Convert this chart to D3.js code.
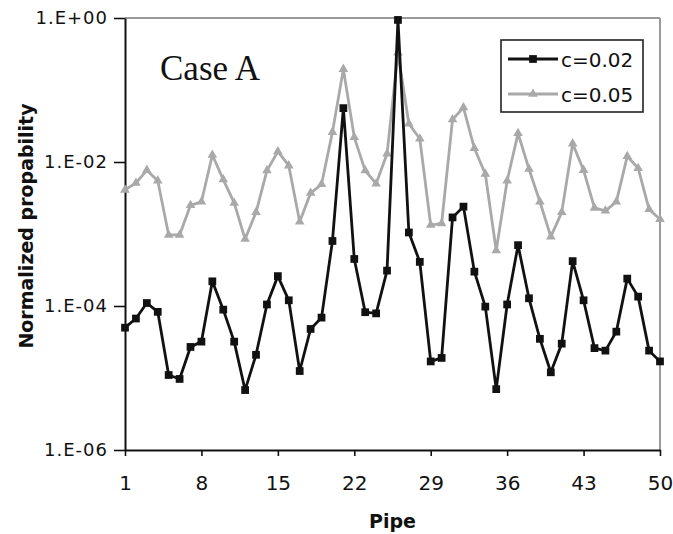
<!DOCTYPE html>
<html>
<head>
<meta charset="utf-8">
<script src="https://cdn.jsdelivr.net/npm/d3@7"></script>
<style>
  html, body { margin: 0; padding: 0; background: #fff; }
  svg { display: block; }
</style>
</head>
<body>
<svg id="chart" width="673" height="534"></svg>
<script>
// Pipe indices 1..50
const pipes = d3.range(1, 51);

// Normalized probability per pipe, c = 0.02
const seriesC002 = [
  5.0e-5, 6.7e-5, 1.1e-4, 8.3e-5, 1.1e-5, 9.7e-6, 2.7e-5, 3.2e-5, 2.2e-4, 8.9e-5,
  3.2e-5, 6.8e-6, 2.1e-5, 1.05e-4, 2.6e-4, 1.2e-4, 1.25e-5, 4.8e-5, 6.9e-5, 8.0e-4,
  5.6e-2, 4.5e-4, 8.2e-5, 7.9e-5, 3.1e-4, 0.94, 1.05e-3, 4.1e-4, 1.7e-5, 1.9e-5,
  1.7e-3, 2.4e-3, 3.0e-4, 9.8e-5, 7.0e-6, 1.05e-4, 7.0e-4, 1.28e-4, 3.5e-5, 1.2e-5,
  3.0e-5, 4.2e-4, 1.2e-4, 2.6e-5, 2.4e-5, 4.4e-5, 2.4e-4, 1.35e-4, 2.4e-5, 1.7e-5
];

// Normalized probability per pipe, c = 0.05
const seriesC005 = [
  4.1e-3, 5.1e-3, 7.7e-3, 5.5e-3, 9.7e-4, 9.7e-4, 2.5e-3, 2.8e-3, 1.25e-2, 5.7e-3,
  2.7e-3, 8.5e-4, 2.0e-3, 7.6e-3, 1.4e-2, 8.9e-3, 1.48e-3, 3.7e-3, 4.9e-3, 2.6e-2,
  0.195, 2.2e-2, 7.6e-3, 5.0e-3, 1.3e-2, 0.33, 3.4e-2, 2.1e-2, 1.33e-3, 1.4e-3,
  3.9e-2, 5.7e-2, 1.55e-2, 6.8e-3, 5.9e-4, 5.5e-3, 2.5e-2, 8.0e-3, 2.8e-3, 9.2e-4,
  2.0e-3, 1.8e-2, 7.7e-3, 2.3e-3, 2.1e-3, 2.8e-3, 1.2e-2, 8.2e-3, 2.2e-3, 1.6e-3
];

const xTicks = [1, 8, 15, 22, 29, 36, 43, 50];
const yTicks = [1, 1e-2, 1e-4, 1e-6];
const yTickLabels = ["1.E+00", "1.E-02", "1.E-04", "1.E-06"];
const seriesNames = ["c=0.02", "c=0.05"];

const svg = d3.select("#chart");
const plotLeft = 125, plotRight = 660, plotTop = 18, plotBottom = 450;

const x = d3.scaleLinear().domain([1, 50]).range([plotLeft, plotRight]);
const y = d3.scaleLog().domain([1e-6, 1]).range([plotBottom, plotTop]);

// Plot frame: grey top and right edges
svg.append("line").attr("x1", plotLeft).attr("x2", plotRight).attr("y1", plotTop).attr("y2", plotTop)
  .attr("stroke", "#9a9a9a").attr("stroke-width", 2);
svg.append("line").attr("x1", plotRight).attr("x2", plotRight).attr("y1", plotTop).attr("y2", plotBottom)
  .attr("stroke", "#9a9a9a").attr("stroke-width", 2);

// Axes
const xAxis = svg.append("g").attr("transform", `translate(0,${plotBottom})`)
  .call(d3.axisBottom(x).tickValues(xTicks).tickSize(6).tickSizeOuter(0).tickPadding(20));
const yAxis = svg.append("g").attr("transform", `translate(${plotLeft},0)`)
  .call(d3.axisLeft(y).tickValues(yTicks).tickSize(11).tickSizeOuter(0).tickPadding(6)
    .tickFormat((d, i) => yTickLabels[i]));

[xAxis, yAxis].forEach(g => {
  g.selectAll("path.domain").attr("stroke", "#111").attr("stroke-width", 2);
  g.selectAll(".tick line").attr("stroke", "#111").attr("stroke-width", 1.6);
});
xAxis.selectAll("text").attr("font-family", "DejaVu Sans, Verdana, sans-serif")
  .attr("font-size", 20).attr("fill", "#111");
yAxis.selectAll("text").attr("font-family", "DejaVu Sans, Verdana, sans-serif")
  .attr("font-size", 18).attr("letter-spacing", 1).attr("fill", "#111");

// Axis titles
svg.append("text").attr("x", (plotLeft + plotRight) / 2).attr("y", 528)
  .attr("text-anchor", "middle").attr("font-family", "DejaVu Sans, Verdana, sans-serif")
  .attr("font-weight", "bold").attr("font-size", 19).attr("fill", "#111").text("Pipe");
svg.append("text").attr("transform", "translate(33,226) rotate(-90)")
  .attr("text-anchor", "middle").attr("font-family", "DejaVu Sans, Verdana, sans-serif")
  .attr("font-weight", "bold").attr("font-size", 19).attr("fill", "#111")
  .text("Normalized propability");

// Panel label
svg.append("text").attr("x", 160).attr("y", 80)
  .attr("font-family", "Liberation Serif, Times New Roman, serif")
  .attr("font-size", 35).attr("fill", "#111").text("Case A");

const line = d3.line().x((d, i) => x(pipes[i])).y(d => y(d));
const grey = "#a9a9a9", black = "#111";

const triangle = d3.symbol().type(d3.symbolTriangle).size(40);
const square = d3.symbol().type(d3.symbolSquare).size(60);

// c = 0.05 series (grey, triangles)
svg.append("path").datum(seriesC005).attr("d", line)
  .attr("fill", "none").attr("stroke", grey).attr("stroke-width", 2.8).attr("stroke-linejoin", "round");
svg.append("g").selectAll("path").data(seriesC005).join("path")
  .attr("d", triangle)
  .attr("transform", (d, i) => `translate(${x(pipes[i])},${y(d)})`)
  .attr("fill", grey);

// c = 0.02 series (black, squares)
svg.append("path").datum(seriesC002).attr("d", line)
  .attr("fill", "none").attr("stroke", black).attr("stroke-width", 2.8).attr("stroke-linejoin", "round");
svg.append("g").selectAll("path").data(seriesC002).join("path")
  .attr("d", square)
  .attr("transform", (d, i) => `translate(${x(pipes[i])},${y(d)})`)
  .attr("fill", black);

// Legend
const legend = svg.append("g");
legend.append("rect").attr("x", 501).attr("y", 40).attr("width", 142).attr("height", 72)
  .attr("fill", "#fff").attr("stroke", "#222").attr("stroke-width", 1.6);
const rows = [
  { name: seriesNames[0], color: black, sym: square, yy: 59 },
  { name: seriesNames[1], color: grey, sym: triangle, yy: 94 }
];
rows.forEach(r => {
  legend.append("line").attr("x1", 508).attr("x2", 558).attr("y1", r.yy).attr("y2", r.yy)
    .attr("stroke", r.color).attr("stroke-width", 2.8);
  legend.append("path").attr("d", r.sym).attr("transform", `translate(533,${r.yy})`)
    .attr("fill", r.color);
  legend.append("text").attr("x", 561).attr("y", r.yy + 8)
    .attr("font-family", "DejaVu Sans, Verdana, sans-serif").attr("font-size", 20)
    .attr("fill", "#111").text(r.name);
});
</script>
</body>
</html>
